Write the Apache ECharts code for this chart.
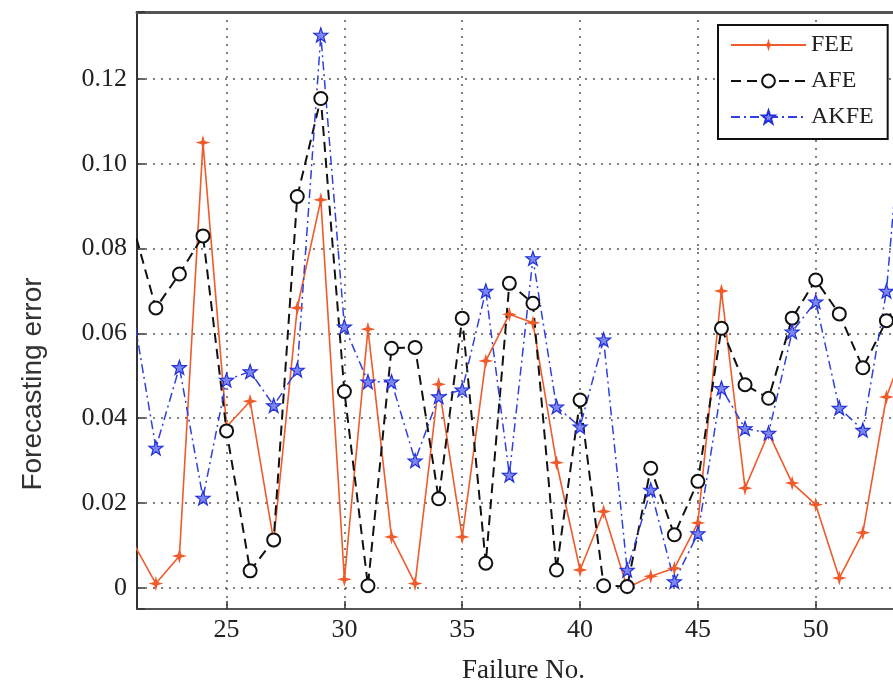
<!DOCTYPE html>
<html>
<head>
<meta charset="utf-8">
<script src="https://cdn.jsdelivr.net/npm/echarts@6/dist/echarts.min.js"></script>
<style>html,body{margin:0;padding:0;background:#fff;}#c{width:893px;height:688px;}</style>
</head>
<body>
<div id="c"></div>
<script>
// ---- data ----
var failureNo = [21,22,23,24,25,26,27,28,29,30,31,32,33,34,35,36,37,38,39,40,41,42,43,44,45,46,47,48,49,50,51,52,53,54];
var FEE  = [0.011,0.001,0.0075,0.105,0.038,0.044,0.011,0.066,0.0915,0.002,0.061,0.012,0.001,0.048,0.012,0.0535,0.0645,0.0625,0.0295,0.0042,0.018,0.0,0.0027,0.0046,0.0153,0.070,0.0235,0.0365,0.0247,0.0196,0.0023,0.013,0.045,0.060];
var AFE  = [0.086,0.066,0.074,0.083,0.037,0.004,0.0113,0.0923,0.1154,0.0463,0.0005,0.0565,0.0567,0.021,0.0636,0.0058,0.0718,0.0671,0.0042,0.0443,0.0005,0.0003,0.0282,0.0125,0.0251,0.0612,0.0479,0.0447,0.0636,0.0726,0.0646,0.0519,0.063,0.072];
var AKFE = [0.066,0.033,0.052,0.0212,0.049,0.051,0.043,0.0514,0.1304,0.0616,0.0486,0.0486,0.030,0.0451,0.0467,0.070,0.0266,0.0777,0.0427,0.038,0.0585,0.0042,0.0231,0.0015,0.0128,0.0471,0.0376,0.0365,0.0604,0.0675,0.0424,0.0372,0.070,0.135];
var xTickLabels = [25,30,35,40,45,50];
var yTickLabels = ['0','0.02','0.04','0.06','0.08','0.10','0.12'];
var seriesNames = ['FEE','AFE','AKFE'];

function pairs(arr){ return failureNo.map(function(x,i){ return [x, arr[i]]; }); }

var serif = "'Liberation Serif','Times New Roman',serif";
var star4 = 'path://M0,-10 L2.2,-2.2 L10,0 L2.2,2.2 L0,10 L-2.2,2.2 L-10,0 L-2.2,-2.2 Z';
var star5 = 'path://M0,-10 L2.35,-3.24 L9.51,-3.09 L3.8,1.24 L5.88,8.09 L0,4 L-5.88,8.09 L-3.8,1.24 L-9.51,-3.09 L-2.35,-3.24 Z';

var chart = echarts.init(document.getElementById('c'), null, {renderer:'canvas'});
var gridStyle = {show:true, lineStyle:{color:'#555', type:[2,6], width:1.5}};
chart.setOption({
  animation:false,
  backgroundColor:'#fff',
  grid:{left:137, top:12, width:773, height:597, containLabel:false, outerBoundsMode:'none'},
  xAxis:[{
    type:'value', min:21.2, max:54, splitNumber:6,
    name:'Failure No.', nameLocation:'middle', nameGap:48,
    nameTextStyle:{fontFamily:serif, fontSize:27, color:'#222'},
    axisLine:{show:true, onZero:false, lineStyle:{color:'#555', width:2}},
    axisTick:{show:true, inside:true, length:8, lineStyle:{color:'#333', width:1.5}},
    axisLabel:{fontFamily:serif, fontSize:26, color:'#222', margin:8,
      showMinLabel:true, showMaxLabel:true,
      formatter:function(v){ return xTickLabels.indexOf(Math.round(v))>=0 && Math.abs(v-Math.round(v))<1e-6 ? String(Math.round(v)) : ''; }},
    splitLine:gridStyle
  },{
    type:'value', position:'top', min:21.2, max:54,
    axisLine:{show:true, onZero:false, lineStyle:{color:'#555', width:3}},
    axisTick:{show:false}, axisLabel:{show:false}, splitLine:{show:false}
  }],
  yAxis:{
    type:'value', min:-0.005, max:0.1358, splitNumber:7,
    axisLine:{show:true, onZero:false, lineStyle:{color:'#333', width:2}},
    axisTick:{show:true, inside:true, length:8, lineStyle:{color:'#333', width:1.5}},
    axisLabel:{fontFamily:serif, fontSize:26, color:'#222', margin:10,
      formatter:function(v){
        var k = Math.round(v/0.02);
        if (Math.abs(v/0.02 - k) > 1e-6 || k < 0 || k >= yTickLabels.length) return '';
        return yTickLabels[k];
      }},
    splitLine:gridStyle
  },
  legend:{
    data:seriesNames, orient:'vertical', left:718, top:25,
    itemWidth:75, itemHeight:16, itemGap:12,
    padding:[8,14,10,12],
    borderColor:'#111', borderWidth:2, backgroundColor:'#fff',
    textStyle:{fontFamily:serif, fontSize:24, color:'#222', padding:[0,0,0,0]}
  },
  graphic:[{
    type:'text', x:33, y:384, rotation:Math.PI/2,
    style:{text:'Forecasting error', font:"28px 'Liberation Sans', Arial, sans-serif", fill:'#333', textAlign:'center', textVerticalAlign:'middle'}
  }],
  series:[
    {name:'FEE', type:'line', data:pairs(FEE), symbol:star4, symbolSize:15,
     lineStyle:{color:'#ef5b2a', width:1.6, type:'solid'},
     itemStyle:{color:'#ef5b2a'}},
    {name:'AFE', type:'line', data:pairs(AFE), symbol:'emptyCircle', symbolSize:13,
     lineStyle:{color:'#111', width:2, type:[10,6]},
     itemStyle:{color:'#111', borderWidth:1.6}},
    {name:'AKFE', type:'line', data:pairs(AKFE), symbol:star5, symbolSize:14,
     lineStyle:{color:'#3040dd', width:1.5, type:[9,4,2,4]},
     itemStyle:{color:'#7d86f0', borderColor:'#2230d8', borderWidth:1.2}}
  ]
});
</script>
</body>
</html>
